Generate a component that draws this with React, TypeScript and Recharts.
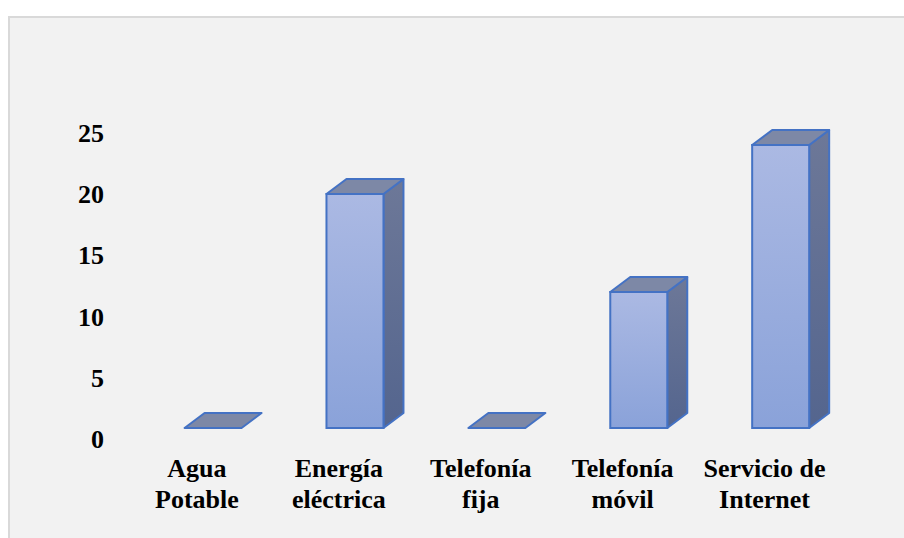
import React from 'react';
import { BarChart, Bar, XAxis, YAxis } from 'recharts';

const categories = ['Agua\nPotable', 'Energía\neléctrica', 'Telefonía\nfija', 'Telefonía\nmóvil', 'Servicio de\nInternet'];
const values = [0, 20, 0, 12, 24];
const yTicks = [0, 5, 10, 15, 20, 25];

const data = categories.map((name, i) => ({ name, value: values[i] }));

const FONT = 'Liberation Serif';
const DX = 20; // depth of the 3d box
const DY = 15;
const FLOOR = 11; // bars stand on the floor, a bit above the zero line
const STROKE = '#4472c4';

const Bar3D = (props: any) => {
  const { x, y, width, height, index } = props;
  const base = y + height - FLOOR;
  const top = Math.min(y, base);
  const h = base - top;
  const fid = `front-${index}`;
  const sid = `side-${index}`;
  return (
    <g>
      <defs>
        <linearGradient id={fid} x1="0" y1="0" x2="0" y2="1">
          <stop offset="0%" stopColor="#abb9e3" />
          <stop offset="100%" stopColor="#8aa2d9" />
        </linearGradient>
        <linearGradient id={sid} x1="0" y1="0" x2="0" y2="1">
          <stop offset="0%" stopColor="#6d7898" />
          <stop offset="100%" stopColor="#54658e" />
        </linearGradient>
      </defs>
      {h > 0.5 && (
        <path
          d={`M${x + width},${top}L${x + width + DX},${top - DY}L${x + width + DX},${base - DY}L${x + width},${base}Z`}
          fill={`url(#${sid})`}
          stroke={STROKE}
          strokeWidth={2}
          strokeLinejoin="round"
        />
      )}
      <path
        d={`M${x},${top}L${x + DX},${top - DY}L${x + width + DX},${top - DY}L${x + width},${top}Z`}
        fill="#7d88a6"
        stroke={STROKE}
        strokeWidth={2}
        strokeLinejoin="round"
      />
      {h > 0.5 && (
        <rect x={x} y={top} width={width} height={h} fill={`url(#${fid})`} stroke={STROKE} strokeWidth={2} />
      )}
    </g>
  );
};

const CategoryTick = (props: any) => {
  const { x, y, payload } = props;
  const lines = String(payload.value).split('\n');
  return (
    <text x={x - 16} y={y} textAnchor="middle" fontFamily={FONT} fontWeight={700} fontSize={26} fill="#000">
      {lines.map((l, i) => (
        <tspan key={i} x={x - 16} dy={i === 0 ? 30 : 31}>
          {l}
        </tspan>
      ))}
    </text>
  );
};

const ValueTick = (props: any) => {
  const { x, y, payload } = props;
  return (
    <text x={x} y={y} dy={9} textAnchor="end" fontFamily={FONT} fontWeight={700} fontSize={26} fill="#000">
      {payload.value}
    </text>
  );
};

export default function App() {
  return (
    <div
      style={{
        position: 'fixed',
        left: 8,
        top: 16,
        width: 896,
        height: 522,
        boxSizing: 'border-box',
        background: '#f2f2f2',
        borderLeft: '2px solid #d9d9d9',
        borderTop: '2px solid #d9d9d9',
      }}
    >
      <BarChart
        width={894}
        height={520}
        data={data}
        margin={{ top: 114.75, right: 52.5, bottom: 0, left: 0 }}
        barCategoryGap="30%"
      >
        <XAxis dataKey="name" axisLine={false} tickLine={false} interval={0} height={99} tick={<CategoryTick />} />
        <YAxis
          domain={[0, 25]}
          ticks={yTicks}
          width={132}
          axisLine={false}
          tickLine={false}
          tickSize={0}
          tickMargin={38}
          tick={<ValueTick />}
        />
        <Bar dataKey="value" shape={<Bar3D />} isAnimationActive={false} />
      </BarChart>
    </div>
  );
}
